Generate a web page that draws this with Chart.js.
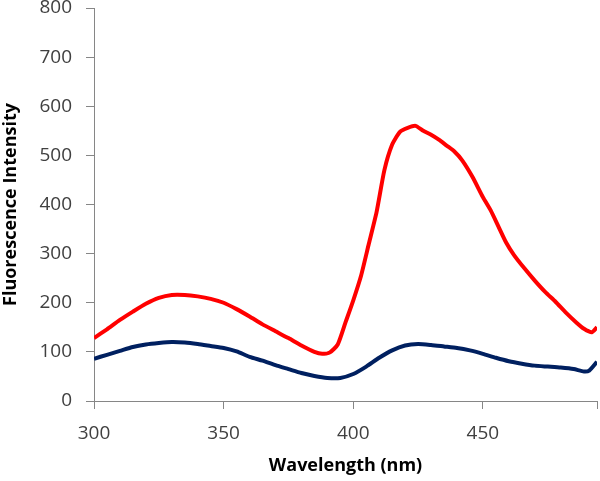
<!DOCTYPE html>
<html>
<head>
<meta charset="utf-8">
<script src="https://cdn.jsdelivr.net/npm/chart.js@4"></script>
<style>
  html, body { margin: 0; padding: 0; background: #fff; }
  #wrap { width: 600px; height: 481px; }
</style>
</head>
<body>
<div id="wrap"><canvas id="myChart" width="600" height="481"></canvas></div>
<script>
// wavelength (nm) and intensity
const redX = [300, 305, 310, 315, 320, 325, 330, 335, 340, 345, 350, 355, 360, 365, 370, 375, 380, 385, 388, 391, 394, 397, 400, 403, 406, 409, 412, 415, 418, 421, 424, 427, 430, 433, 436, 439, 442, 446, 450, 453, 456, 459, 462, 466, 470, 474, 478, 482, 486, 489, 492, 494];
const redY = [128, 146, 165, 182, 198, 210, 216, 216, 213, 208, 200, 187, 172, 156, 142, 128, 113, 100, 96, 99, 115, 160, 205, 255, 320, 385, 470, 522, 548, 556, 560, 550, 542, 532, 520, 508, 490, 456, 415, 388, 355, 322, 297, 270, 245, 222, 202, 180, 160, 147, 140, 150];

const blueX = [300, 305, 310, 315, 320, 325, 330, 335, 340, 345, 350, 355, 360, 365, 370, 375, 380, 385, 390, 395, 400, 405, 410, 415, 420, 425, 430, 435, 440, 445, 450, 455, 460, 465, 470, 475, 480, 485, 489, 491, 494];
const blueY = [86, 94, 102, 110, 115, 118, 120, 119, 116, 112, 108, 101, 90, 82, 73, 65, 57, 51, 47, 47, 55, 70, 88, 103, 113, 116, 114, 111, 108, 103, 96, 88, 81, 76, 72, 70, 68, 65, 60, 62, 80];

const xMin = 300, xMax = 494, xStep = 50;
const yMin = 0, yMax = 800, yStep = 100;

const toPoints = (xs, ys) => xs.map((x, i) => ({ x: x, y: ys[i] }));

const axisColor = '#868686';
const textColor = '#404040';
const fontFamily = '"Open Sans", "Noto Sans", sans-serif';

var ctx = document.getElementById('myChart').getContext('2d');
// eslint-disable-next-line no-undef
new Chart(ctx, {
    type: 'line',
    data: {
        datasets: [{
            data: toPoints(redX, redY),
            borderColor: '#ff0000',
            borderWidth: 4,
            pointRadius: 0,
            tension: 0.2
        }, {
            data: toPoints(blueX, blueY),
            borderColor: '#002060',
            borderWidth: 4,
            pointRadius: 0,
            tension: 0.2
        }]
    },
    options: {
        responsive: false,
        animation: false,
        layout: { padding: { top: 8, right: 3, left: 0, bottom: 0 } },
        plugins: { legend: { display: false }, tooltip: { enabled: false } },
        scales: {
            x: {
                type: 'linear',
                min: xMin,
                max: xMax,
                ticks: {
                    stepSize: xStep,
                    color: textColor,
                    font: { family: fontFamily, size: 19 },
                    padding: 13,
                    maxRotation: 0,
                    callback: (v) => (v % xStep === 0 ? v : '')
                },
                grid: {
                    drawOnChartArea: false,
                    color: axisColor,
                    tickLength: 8
                },
                border: { color: axisColor, width: 1 },
                title: {
                    display: true,
                    text: 'Wavelength (nm)',
                    color: '#000',
                    font: { family: fontFamily, size: 18, weight: 'bold' },
                    padding: { top: 4 }
                },
                afterFit: (scale) => {
                    scale.height = 80;
                    scale.paddingLeft = 0;
                    scale.paddingRight = 0;
                }
            },
            y: {
                min: yMin,
                max: yMax,
                ticks: {
                    stepSize: yStep,
                    color: textColor,
                    font: { family: fontFamily, size: 19 },
                    padding: 14
                },
                grid: {
                    drawOnChartArea: false,
                    color: axisColor,
                    tickLength: 8
                },
                border: { color: axisColor, width: 1 },
                title: {
                    display: true,
                    text: 'Fluorescence Intensity',
                    color: '#000',
                    font: { family: fontFamily, size: 18, weight: 'bold' },
                    padding: { top: 0, bottom: 0 }
                },
                afterFit: (scale) => {
                    scale.width = 94;
                    scale.paddingTop = 0;
                    scale.paddingBottom = 0;
                }
            }
        }
    }
});
</script>
</body>
</html>
